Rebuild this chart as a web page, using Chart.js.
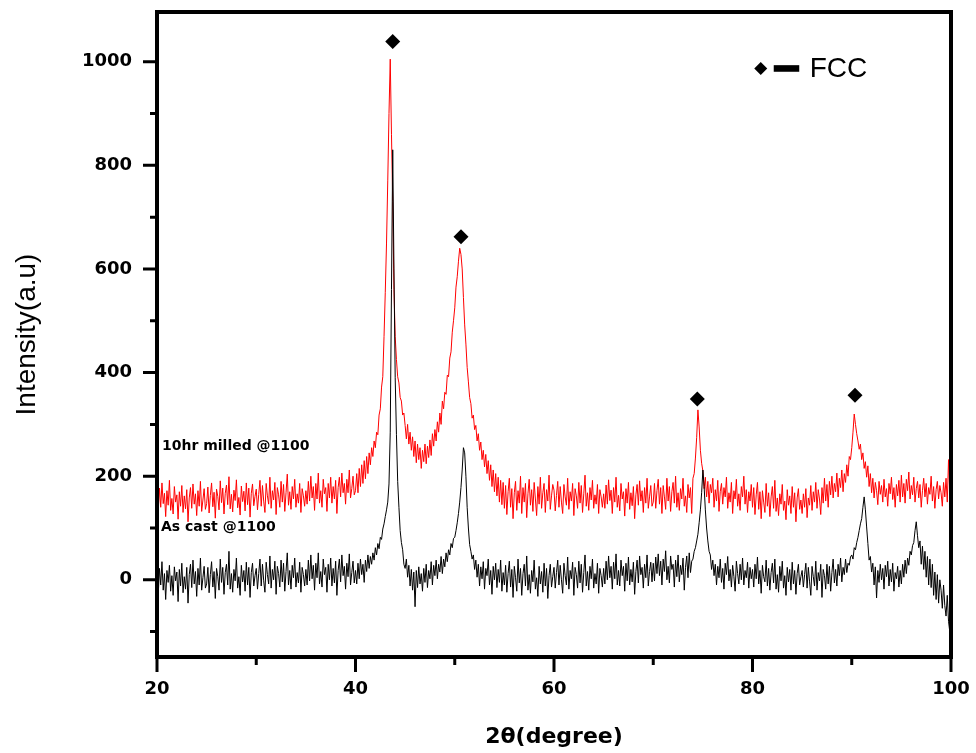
<!DOCTYPE html>
<html>
<head>
<meta charset="utf-8">
<script src="https://cdn.jsdelivr.net/npm/chart.js@4.4.1/dist/chart.umd.min.js"></script>
<style>
  html, body { margin: 0; padding: 0; background: #fff; }
  canvas { display: block; }
</style>
</head>
<body>
<canvas id="c" width="976" height="753"></canvas>
<script>
// ---- data ----
// 2θ sampling grid: 20° → 100°, every 0.125°
const thetaStart = 20, thetaStep = 0.125, thetaCount = 641;
const twoTheta = Array.from({length: thetaCount}, (_, i) => +(thetaStart + i * thetaStep).toFixed(3));

// "10hr milled @1100" (red) — one row per 5°
const milled = [
  160,132,177,140,187,147,167,122,172,144,192,134,157,127,180,150,164,117,170,142,182,130,162,137,174,112,158,178,138,185,146,166,124,172,142,190,132,154,176,136,
  147,179,129,163,187,141,169,119,175,161,135,191,149,177,127,167,183,145,199,137,165,131,173,153,193,139,159,125,181,151,171,133,187,145,177,121,167,185,143,161,
  175,135,165,192,142,182,152,130,186,162,146,198,138,172,154,188,126,178,164,140,190,150,184,132,168,204,144,170,136,180,156,194,140,166,148,186,130,176,162,142,
  172,146,190,152,200,158,180,134,186,156,206,148,172,140,194,166,178,132,186,158,198,148,180,156,192,128,178,198,160,206,168,186,146,194,168,212,158,176,200,164,
  172,205,168,215,180,222,186,230,195,238,205,245,222,255,238,268,255,285,280,318,330,372,392,470,555,650,770,900,1005,860,730,560,470,425,392,380,352,345,318,322,
  298,272,300,262,285,250,276,238,268,226,262,232,255,215,250,228,262,224,258,236,270,240,282,258,290,268,305,285,322,300,345,330,362,358,395,392,428,440,478,500,
  525,565,585,615,640,628,600,545,492,455,410,382,352,340,312,318,290,298,268,282,250,266,232,250,218,242,205,230,192,222,180,212,170,205,162,198,150,192,145,188,
  138,182,126,170,196,140,176,118,168,190,134,172,148,200,128,178,150,186,120,166,194,144,174,132,188,156,124,180,146,198,138,168,186,130,174,152,202,136,162,184,
  173,133,163,190,140,180,150,128,184,160,144,196,136,170,152,186,124,176,162,138,188,148,182,130,166,202,142,168,134,178,154,192,138,164,146,184,128,174,160,140,
  166,138,183,146,193,153,173,128,178,150,198,140,163,133,186,156,170,123,176,148,188,136,168,143,180,118,164,184,144,191,152,172,130,178,148,196,138,160,182,142,
  150,186,138,172,194,146,178,128,182,160,136,196,152,180,132,170,188,148,200,140,168,134,176,156,196,142,162,130,184,158,178,128,196,205,235,275,328,295,250,225,
  210,176,198,160,190,148,184,168,196,140,174,152,192,132,170,186,146,178,160,198,138,168,150,188,128,172,156,194,142,166,134,180,160,200,146,174,130,170,152,184,
  140,178,126,164,188,136,170,118,172,150,130,186,142,168,122,160,180,138,192,132,158,124,166,146,184,134,152,116,174,144,162,128,180,140,168,112,158,176,136,154,
  128,166,140,176,120,158,144,182,134,170,150,188,138,174,156,126,178,148,196,152,184,140,190,164,200,158,186,170,206,160,196,178,212,170,205,188,222,200,238,232,
  255,285,320,300,282,268,252,262,232,245,215,228,198,220,180,205,168,196,158,188,172,145,190,165,182,150,194,160,176,142,186,166,198,155,178,140,184,162,192,150,
  202,160,186,148,194,172,208,156,182,164,198,150,176,190,158,184,140,172,196,160,186,146,178,165,200,152,180,138,174,190,156,182,168,142,188,160,196,150,232,170,
  165
];

// "As cast @1100" (black) — one row per 5°
const asCast = [
  5,-28,22,-10,35,-20,12,-38,18,-5,28,-22,8,-30,25,-2,15,-42,20,-12,32,-25,6,-18,24,-45,10,30,-15,38,-8,16,-32,22,-10,42,-20,4,26,-16,
  -8,24,-25,10,35,-14,16,-36,22,6,-20,40,-5,24,-28,14,30,-10,55,-18,12,-24,20,-2,42,-16,6,-30,28,-4,18,-22,34,-10,24,-34,14,32,-12,8,
  22,-18,12,40,-12,30,-2,-24,34,10,-8,46,-16,20,0,36,-28,26,12,-14,38,-4,32,-22,16,52,-10,18,-18,28,4,42,-14,14,-6,34,-24,24,10,-12,
  20,-10,38,-2,48,2,28,-20,32,4,52,-8,16,-14,40,10,24,-24,30,0,42,-12,22,-6,36,-30,18,40,-4,48,8,26,-18,32,6,50,-10,14,36,-6,
  18,-8,32,2,40,10,30,-5,38,16,48,22,45,30,52,38,62,48,70,60,82,78,98,108,122,135,150,185,285,560,830,600,390,280,190,140,95,72,58,30,
  22,40,5,28,-12,20,-20,15,-52,18,-15,25,-8,12,-22,22,-5,30,-15,18,2,35,-10,28,8,38,2,30,15,45,12,40,25,52,35,58,48,70,62,80,
  82,95,110,128,150,178,212,255,245,200,140,100,68,55,40,48,20,38,5,30,-12,25,2,35,-18,22,8,40,-10,18,-28,26,0,32,-15,20,-5,38,-22,14,
  -10,28,-24,12,36,-14,20,-34,26,4,-22,40,-6,22,-30,12,30,-12,46,-20,10,-26,18,-4,38,-18,4,-32,26,-8,16,-24,32,-12,22,-36,8,30,-14,6,
  24,-16,14,38,-10,28,0,-26,32,8,-10,44,-18,18,2,34,-30,24,10,-16,36,-6,30,-24,14,48,-12,16,-20,26,2,40,-16,12,-8,32,-26,22,8,-14,
  22,-8,36,0,46,4,26,-18,34,2,50,-10,18,-12,38,8,26,-22,32,-2,44,-10,20,-4,34,-28,16,38,-6,46,10,24,-16,30,4,48,-12,16,34,-4,
  32,-2,44,12,50,8,36,-10,40,16,56,0,26,-6,46,20,30,-14,38,6,48,-4,28,10,42,-20,24,46,4,52,14,36,40,55,62,75,88,110,135,168,
  212,180,135,100,75,55,48,20,38,8,30,-10,26,4,40,-5,22,-18,32,10,45,-2,20,-14,28,6,-22,36,12,-8,30,0,42,-10,18,4,34,-16,24,2,
  20,-14,30,2,44,-8,18,-26,28,6,-4,38,-12,22,-20,14,32,-6,40,-18,10,-24,26,-2,36,-16,8,-30,24,-4,20,-20,34,-8,18,-28,12,30,-10,6,
  18,-14,10,32,-16,24,-4,-30,26,6,-12,36,-20,14,-2,30,-34,20,8,-18,30,-8,26,-22,14,40,-6,20,-12,30,8,42,-4,24,10,40,14,32,28,44,
  48,40,62,58,72,82,95,108,118,140,160,135,102,70,38,45,15,32,-10,25,-35,18,-5,30,0,22,-18,28,6,36,-12,20,-4,32,-22,14,2,26,-14,18,
  -8,30,5,38,12,42,28,55,48,66,72,95,112,85,62,75,30,65,20,55,5,45,-10,40,-15,30,-30,15,-38,10,-45,0,-20,-55,-10,-50,-70,-30,-80,-100,
  -110
];

// FCC peak markers (◆)
const peakTheta = [43.75, 50.63, 74.44, 90.33];
const peakMark  = [1039, 662, 349, 356];

// axis ticks
const xMajorTicks = [20, 40, 60, 80, 100];
const xMinorTicks = [30, 50, 70, 90];
const yMajorTicks = [0, 200, 400, 600, 800, 1000];
const yMinorTicks = [-100, 100, 300, 500, 700, 900];

// text annotations
const seriesLabels = [
  {text: '10hr milled @1100', x: 20.5, y: 257},
  {text: 'As cast @1100', x: 20.4, y: 102}
];
const legendText = 'FCC';
const legendAnchor = {x: 80.83, y: 987};

// ---- chart ----
const pts = (ys) => twoTheta.map((t, i) => ({x: t, y: ys[i]}));
const noPad = s => { s.paddingLeft = 0; s.paddingRight = 0; s.paddingTop = 0; s.paddingBottom = 0; };

const framePlugin = {
  id: 'frame',
  afterDraw(chart) {
    const {ctx, chartArea: a, scales: {x, y}} = chart;
    ctx.save();
    ctx.strokeStyle = '#000';
    ctx.lineCap = 'butt';
    ctx.lineWidth = 3;
    ctx.beginPath();
    xMajorTicks.forEach(v => { const p = x.getPixelForValue(v); ctx.moveTo(p, a.bottom); ctx.lineTo(p, a.bottom + 15); });
    xMinorTicks.forEach(v => { const p = x.getPixelForValue(v); ctx.moveTo(p, a.bottom); ctx.lineTo(p, a.bottom + 8); });
    yMajorTicks.forEach(v => { const p = y.getPixelForValue(v); ctx.moveTo(a.left, p); ctx.lineTo(a.left - 14, p); });
    yMinorTicks.forEach(v => { const p = y.getPixelForValue(v); ctx.moveTo(a.left, p); ctx.lineTo(a.left - 7, p); });
    ctx.stroke();
    ctx.lineWidth = 4;
    ctx.strokeRect(a.left, a.top, a.right - a.left, a.bottom - a.top);

    ctx.fillStyle = '#000';
    ctx.font = 'bold 14px "DejaVu Sans"';
    ctx.textAlign = 'left';
    ctx.textBaseline = 'middle';
    seriesLabels.forEach(l => ctx.fillText(l.text, x.getPixelForValue(l.x), y.getPixelForValue(l.y)));

    const lx = x.getPixelForValue(legendAnchor.x);
    const ly = y.getPixelForValue(legendAnchor.y);
    ctx.beginPath();
    ctx.moveTo(lx - 6.5, ly); ctx.lineTo(lx, ly - 6.5); ctx.lineTo(lx + 6.5, ly); ctx.lineTo(lx, ly + 6.5);
    ctx.closePath();
    ctx.fill();
    ctx.fillRect(lx + 13, ly - 3.3, 25.5, 6.6);
    ctx.font = '28px "Liberation Sans"';
    ctx.fillText(legendText, lx + 49, ly + 1);
    ctx.restore();
  }
};

new Chart(document.getElementById('c'), {
  type: 'line',
  data: {
    datasets: [
      {
        label: 'FCC',
        data: peakTheta.map((t, i) => ({x: t, y: peakMark[i]})),
        showLine: false,
        pointStyle: 'rectRot',
        pointRadius: 7.5,
        pointBackgroundColor: '#000',
        pointBorderColor: '#000',
        pointBorderWidth: 0
      },
      {
        label: 'As cast @1100',
        data: pts(asCast),
        borderColor: '#000000',
        borderWidth: 1,
        pointRadius: 0,
        tension: 0
      },
      {
        label: '10hr milled @1100',
        data: pts(milled),
        borderColor: '#ff0000',
        borderWidth: 1,
        pointRadius: 0,
        tension: 0
      }
    ]
  },
  options: {
    responsive: false,
    animation: false,
    events: [],
    layout: { padding: { left: 0, top: 12, right: 25, bottom: 0 } },
    plugins: { legend: { display: false }, tooltip: { enabled: false } },
    scales: {
      x: {
        type: 'linear',
        min: 20, max: 100,
        afterBuildTicks: s => { s.ticks = xMajorTicks.map(v => ({value: v})); },
        afterFit: s => { s.height = 96; noPad(s); },
        grid: { display: false, drawTicks: false },
        border: { display: false },
        ticks: { color: '#000', padding: 22, maxRotation: 0, callback: v => String(v),
                 font: { family: 'DejaVu Sans', size: 18, weight: 'bold' } },
        title: { display: true, text: '2θ(degree)', color: '#000', padding: { top: 0, bottom: 3 },
                 font: { family: 'DejaVu Sans', size: 22, weight: 'bold' } }
      },
      y: {
        type: 'linear',
        min: -149, max: 1096,
        afterBuildTicks: s => { s.ticks = yMajorTicks.map(v => ({value: v})); },
        afterFit: s => { s.width = 157; noPad(s); },
        grid: { display: false, drawTicks: false },
        border: { display: false },
        ticks: { color: '#000', padding: 25, callback: v => String(v),
                 font: { family: 'DejaVu Sans', size: 18, weight: 'bold' } },
        title: { display: true, text: 'Intensity(a.u)', color: '#000', padding: { top: 10, bottom: 0 },
                 font: { family: 'Liberation Sans', size: 28, weight: 'normal' } }
      }
    }
  },
  plugins: [framePlugin]
});
</script>
</body>
</html>
